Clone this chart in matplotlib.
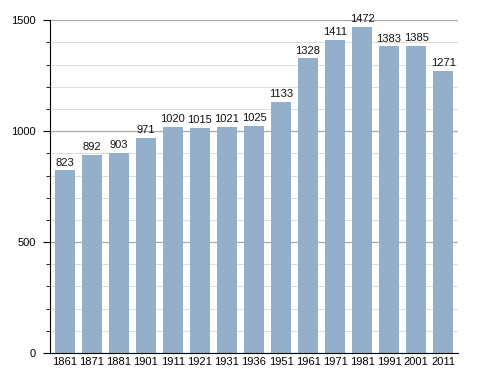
import matplotlib
matplotlib.use("Agg")
import matplotlib.pyplot as plt
from matplotlib.ticker import MultipleLocator

plt.rcParams["font.family"] = ["Liberation Sans", "DejaVu Sans"]

years = ["1861", "1871", "1881", "1901", "1911", "1921", "1931", "1936",
         "1951", "1961", "1971", "1981", "1991", "2001", "2011"]
population = [823, 892, 903, 971, 1020, 1015, 1021, 1025,
              1133, 1328, 1411, 1472, 1383, 1385, 1271]

fig = plt.figure(figsize=(4.88, 3.73), dpi=100)
ax = fig.add_axes([0.1025, 0.0536, 0.836, 0.892])

x = list(range(len(years)))
bars = ax.bar(x, population, width=0.76, color="#94afca", zorder=2)
for xi, v in zip(x, population):
    ax.text(xi, v + 12, str(v), ha="center", va="bottom", fontsize=8, color="#111111")

ax.set_xlim(-0.55, len(years) - 0.45)
ax.set_ylim(0, 1500)
ax.set_xticks(x)
ax.set_xticklabels(years, fontsize=8)
ax.yaxis.set_major_locator(MultipleLocator(500))
ax.yaxis.set_minor_locator(MultipleLocator(100))
ax.tick_params(axis="y", which="major", labelsize=8, length=5, width=0.8, pad=5)
ax.tick_params(axis="y", which="minor", length=3, width=0.6)
ax.tick_params(axis="x", length=0, pad=3)
ax.grid(axis="y", which="major", color="#aaaaaa", linewidth=0.9, zorder=0)
ax.grid(axis="y", which="minor", color="#dedede", linewidth=0.8, zorder=0)
ax.set_axisbelow(True)
for s in ["top", "right"]:
    ax.spines[s].set_visible(False)
ax.spines["left"].set_color("black")
ax.spines["bottom"].set_color("black")

fig.savefig("out.png", dpi=100)
